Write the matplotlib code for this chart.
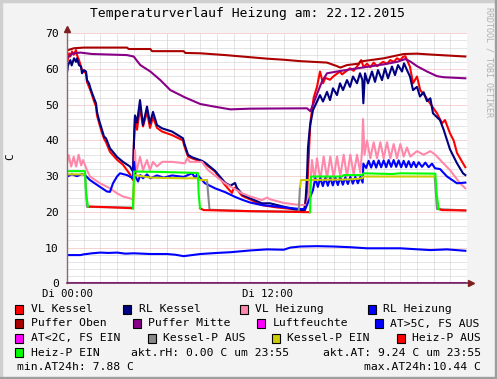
import numpy as np
import matplotlib
matplotlib.use("Agg")
import matplotlib.pyplot as plt
from matplotlib.patches import Rectangle

W, H, DPI = 497, 379, 100
FONT = "DejaVu Sans Mono"

title = "Temperaturverlauf Heizung am: 22.12.2015"
y_label = "C"
x_tick_hours = [0, 12]
x_tick_labels = ["Di 00:00", "Di 12:00"]
y_ticks = [0, 10, 20, 30, 40, 50, 60, 70]

# ---- series (hour of day, value) ----
vl_kessel = [(0, 61.5), (0.06, 63), (0.12, 64.4), (0.2, 63.5), (0.3, 64.9), (0.4, 64), (0.54, 65.3), (0.6, 63.9),
             (0.72, 62.5), (0.84, 60.7), (0.9, 59.7), (1.02, 59.3), (1.14, 58.8), (1.2, 56.4), (1.32, 55), (1.44, 53.6),
             (1.62, 51), (1.74, 49.5), (1.8, 47), (1.92, 45), (2.04, 43), (2.22, 40.5), (2.34, 39.5), (2.58, 36.8),
             (3.0, 34.6), (3.36, 33.2), (3.78, 30.5), (3.96, 28.9), (4.02, 40), (4.08, 46.7), (4.2, 43), (4.38, 49),
             (4.56, 43.9), (4.8, 48), (4.98, 43.5), (5.16, 46.5), (5.4, 43.5), (5.7, 42.5), (6.3, 41.5), (6.96, 40),
             (7.02, 38.7), (7.26, 35.5), (7.5, 35), (8.1, 34), (8.28, 33.5), (8.88, 31.3), (9.48, 27.5), (9.9, 25.3),
             (10.0, 26.6), (10.1, 26.8), (10.5, 24.5), (10.98, 23.5), (11.7, 21.9), (12.5, 21.3), (13.5, 20.8),
             (14.2, 20.3), (14.4, 25), (14.6, 45), (14.8, 52), (15.0, 55), (15.18, 59.3), (15.36, 56), (15.5, 57.5),
             (15.78, 57), (16.0, 58), (16.38, 59.3), (16.5, 58.5), (16.98, 60.2), (17.2, 59.5), (17.5, 61.3),
             (17.65, 62.5), (17.8, 60.5), (18.0, 61.5), (18.2, 60.5), (18.4, 61.8), (18.6, 60.8), (18.96, 62),
             (19.2, 61.5), (19.4, 62.5), (19.6, 62), (19.8, 63), (20.0, 62.5), (20.16, 63.4), (20.3, 63.6),
             (20.58, 60.6), (20.76, 56), (21.0, 57.9), (21.2, 54), (21.4, 53), (21.78, 50.4), (22.2, 47.6),
             (22.5, 44.8), (22.68, 45.7), (22.98, 42), (23.2, 40), (23.4, 36.5), (23.76, 33.6), (23.9, 32.5)]

rl_kessel = [(0, 58.9), (0.06, 61), (0.2, 62.5), (0.28, 61), (0.42, 63), (0.54, 62), (0.6, 63), (0.72, 61.1),
             (0.84, 60.7), (0.9, 58.8), (1.02, 59.7), (1.14, 59.3), (1.2, 56.9), (1.32, 56), (1.44, 54.1),
             (1.62, 51.8), (1.74, 50.4), (1.8, 48), (1.92, 45.7), (2.04, 43.9), (2.22, 41.1), (2.34, 40.6),
             (2.58, 37.8), (3.0, 35.4), (3.36, 34), (3.78, 32.7), (3.96, 31.3), (4.02, 40), (4.08, 47), (4.2, 45),
             (4.38, 51.3), (4.56, 44.3), (4.8, 49.5), (4.98, 44.8), (5.16, 48), (5.4, 44.3), (5.7, 43.4),
             (6.3, 42.5), (6.96, 40.6), (7.05, 39), (7.26, 36), (7.5, 35.3), (8.1, 34.3), (8.28, 33.8),
             (8.88, 31.5), (9.48, 28.2), (9.8, 27.3), (10.08, 28.1), (10.2, 26.7), (10.56, 24.7), (10.98, 23.8),
             (11.7, 22.4), (12.18, 22.4), (12.96, 21.5), (13.98, 20.3), (14.28, 20.5), (14.4, 30), (14.46, 38),
             (14.58, 44), (14.76, 48.5), (15.0, 50.9), (15.18, 52.7), (15.36, 50.9), (15.6, 53.6), (15.78, 51.3),
             (15.96, 54.6), (16.2, 52.7), (16.38, 56), (16.56, 54.1), (16.8, 56.9), (16.98, 55), (17.16, 57.9),
             (17.4, 56), (17.58, 58.8), (17.72, 57), (17.78, 50.4), (17.88, 58.8), (18.06, 56), (18.3, 59.3),
             (18.48, 56.4), (18.66, 59.7), (18.9, 56.9), (19.08, 60.2), (19.26, 57.4), (19.5, 60.7),
             (19.68, 58.3), (19.86, 61.1), (20.1, 59.3), (20.22, 61.6), (20.4, 59.7), (20.58, 57.9),
             (20.76, 54.1), (21.0, 55), (21.18, 52.3), (21.4, 53.5), (21.6, 51), (21.8, 51.8), (21.96, 47.6),
             (22.2, 46.5), (22.38, 45.7), (22.6, 43), (22.98, 37.5), (23.4, 33.6), (23.76, 30.8), (23.9, 30.3)]

vl_heizung = [(0, 33.6), (0.1, 35.9), (0.25, 32.7), (0.4, 35.4), (0.55, 32.7), (0.7, 36), (0.85, 33), (0.96, 34.5),
              (1.2, 31.7), (1.38, 29.9), (1.98, 28), (2.58, 26.6), (3.0, 25.2), (3.36, 24.3), (3.78, 23.8),
              (3.96, 23.5), (4.04, 30), (4.08, 37.3), (4.14, 30.8), (4.38, 35.4), (4.56, 31.7), (4.8, 34.5),
              (4.98, 31.7), (5.16, 34), (5.4, 32.7), (5.7, 34), (6.3, 34), (7.08, 33.6), (7.2, 35), (7.38, 34),
              (8.1, 34), (8.46, 31.7), (9.48, 28), (10.5, 25.2), (11.0, 24.3), (11.7, 23.3), (12.0, 24.0),
              (12.2, 23.5), (13.0, 22.5), (14.0, 21.9), (14.4, 22), (14.6, 28), (14.7, 34.5), (14.85, 29),
              (15.0, 35), (15.2, 29), (15.4, 35.5), (15.6, 29.5), (15.8, 35.5), (16.0, 29.5), (16.2, 35.5),
              (16.4, 30), (16.6, 36), (16.8, 30), (17.0, 36), (17.2, 30.5), (17.4, 36), (17.6, 31), (17.7, 37),
              (17.76, 46), (17.85, 36), (18.0, 40), (18.2, 35), (18.4, 39.5), (18.6, 35), (18.8, 39.5), (19.0, 35),
              (19.2, 39.5), (19.4, 35), (19.6, 39), (19.8, 35), (20.0, 39), (20.2, 35.5), (20.4, 38), (20.6, 35.5),
              (21.0, 37), (21.4, 36), (21.8, 37), (22.1, 36), (22.5, 34), (22.98, 31.7), (23.58, 28), (23.9, 26.6)]

rl_heizung = [(0, 29.9), (0.3, 30.5), (0.6, 30.0), (0.9, 30.6), (1.08, 30.3), (1.38, 28.9), (1.98, 27), (2.4, 25.7),
              (2.58, 25.6), (2.76, 28), (3.0, 29.9), (3.18, 30.8), (3.6, 30.3), (3.96, 29.4), (4.02, 34), (4.1, 30),
              (4.26, 28.5), (4.4, 30.3), (4.56, 29.4), (4.8, 30.5), (5.0, 29.4), (5.4, 30.2), (5.8, 29.6),
              (6.3, 30.2), (7.0, 29.8), (7.5, 30.8), (7.7, 29.5), (7.8, 30.5), (8.28, 28), (8.88, 26.6),
              (9.5, 25.5), (10.08, 24.2), (10.56, 23.3), (11.0, 22.6), (11.7, 21.9), (13.0, 21.3), (13.98, 20.8),
              (14.3, 20.8), (14.58, 24), (14.76, 26.1), (14.9, 29.5), (15.05, 27), (15.2, 29.5), (15.35, 27.2),
              (15.5, 29.5), (15.65, 27.3), (15.8, 29.6), (15.95, 27.4), (16.1, 29.6), (16.25, 27.5), (16.4, 29.7),
              (16.55, 27.6), (16.7, 29.7), (16.85, 27.8), (17.0, 29.8), (17.15, 27.9), (17.3, 29.8), (17.45, 28),
              (17.6, 29.8), (17.74, 28.2), (17.78, 33.5), (17.95, 32.3), (18.1, 34.3), (18.25, 32.4), (18.4, 34.3),
              (18.55, 32.4), (18.7, 34.4), (18.85, 32.5), (19.0, 34.4), (19.15, 32.5), (19.3, 34.5), (19.45, 32.6),
              (19.6, 34.5), (19.75, 32.6), (19.9, 34.4), (20.05, 32.5), (20.2, 34.3), (20.35, 32.5), (20.5, 34.2),
              (20.65, 32.5), (20.8, 34), (20.95, 32.5), (21.1, 33.9), (21.3, 32.6), (21.5, 33.8), (21.7, 32.5),
              (21.9, 33.5), (22.08, 32.2), (22.38, 32), (22.8, 29.9), (23.4, 28), (23.9, 28.2)]

puffer_oben = [(0, 65.2), (0.4, 65.8), (1.0, 66.0), (3.6, 66.0), (3.7, 65.6), (5.0, 65.6), (5.1, 65.0), (7.0, 65.0),
               (7.1, 64.5), (8.0, 64.4), (9.5, 63.9), (11.0, 63.3), (12.0, 62.9), (13.0, 62.6), (14.0, 62.2),
               (15.6, 61.8), (16.2, 60.8), (16.4, 60.4), (16.8, 61.1), (17.5, 61.5), (17.6, 62.1), (19.0, 63.0),
               (20.2, 64.2), (21.0, 64.3), (22.0, 64.0), (23.9, 63.5)]

puffer_mitte = [(0, 63), (0.3, 64.3), (0.8, 64.6), (1.5, 64.2), (3.6, 63.9), (4.0, 63.5), (4.4, 61.1), (5.0, 59.3),
                (5.6, 56.9), (6.2, 54.1), (7.1, 52.0), (8.0, 50.2), (8.8, 49.5), (9.8, 48.7), (11.0, 48.9),
                (14.4, 49.0), (14.6, 48.2), (14.8, 50.5), (15.0, 53), (15.3, 56.5), (15.6, 58.8), (16.2, 59.3),
                (17.0, 59.9), (18.0, 60.6), (19.0, 61.3), (19.8, 62.0), (20.3, 62.8), (20.6, 62.1), (21.0, 60.8),
                (21.6, 59.3), (22.2, 58.0), (22.6, 57.7), (23.9, 57.4)]

luftfeuchte = [(0, 0.0), (23.9, 0.0)]

aussen_temp = [(0, 7.9), (0.8, 7.9), (1.0, 8.1), (1.5, 8.4), (2.0, 8.6), (2.5, 8.5), (3.0, 8.6), (3.5, 8.3),
               (4.0, 8.4), (5.0, 8.2), (6.0, 8.2), (6.5, 8.0), (7.0, 7.6), (7.5, 7.9), (8.0, 8.2), (9.0, 8.5),
               (9.8, 8.7), (11.0, 9.2), (12.0, 9.5), (13.0, 9.4), (13.4, 10.0), (14.0, 10.3), (15.0, 10.4),
               (16.0, 10.3), (17.0, 10.1), (18.0, 9.8), (20.0, 9.8), (21.8, 9.3), (22.8, 9.5), (23.9, 9.1)]

NA = float("nan")
kessel_p_aus = [(1.08, 30.5), (1.2, 21.4), (2.5, 21.3), (3.96, 21.2), (NA, NA), (8.4, 28.9), (8.55, 20.6),
                (11.0, 20.2), (13.9, 20.1), (13.98, 27.0), (NA, NA), (22.06, 29.9), (22.2, 20.8), (23.9, 20.4)]
kessel_p_ein = [(0, 30.5), (1.08, 30.5), (NA, NA), (3.96, 21.2), (4.05, 30.3), (5.0, 29.6), (7.0, 29.4),
                (7.9, 29.4), (7.95, 28.9), (8.4, 28.9), (NA, NA), (13.98, 27.0), (14.04, 28.9), (17.0, 29.1),
                (17.7, 29.4), (17.8, 29.9), (22.06, 29.9)]
heiz_p_aus = [(1.26, 21.5), (2.5, 21.3), (3.96, 21.0), (NA, NA), (7.98, 21.0), (8.2, 20.5), (11.0, 20.2),
              (13.5, 20.0), (14.58, 19.9), (NA, NA), (22.3, 20.8), (22.5, 20.5), (23.9, 20.4)]
heiz_p_ein = [(0, 31.4), (1.08, 31.4), (1.14, 25), (1.26, 21.5), (NA, NA), (3.96, 21.0), (4.02, 31.3),
              (5.5, 31.2), (7.0, 31.0), (7.85, 30.9), (7.9, 25), (7.98, 21.0), (NA, NA), (14.58, 19.9),
              (14.64, 29.9), (16.5, 29.9), (16.6, 30.3), (17.7, 30.3), (17.8, 30.8), (19.5, 30.6), (20.0, 30.8),
              (22.1, 30.7), (22.18, 25), (22.3, 20.8)]

series = [
    (vl_kessel, "#ff0000"), (rl_kessel, "#000080"), (vl_heizung, "#ff88aa"), (rl_heizung, "#0000ff"),
    (puffer_oben, "#aa0000"), (puffer_mitte, "#880088"), (luftfeuchte, "#ff00ff"), (aussen_temp, "#0000ff"),
    (kessel_p_aus, "#888888"), (kessel_p_ein, "#cccc00"), (heiz_p_aus, "#ff0000"), (heiz_p_ein, "#00ff00"),
]

legend_items = [
    ("VL Kessel", "#ff0000", 15, 31, 309), ("RL Kessel", "#000080", 123, 139, 309),
    ("VL Heizung", "#ff88aa", 240, 255, 309), ("RL Heizung", "#0000ff", 368, 383, 309),
    ("Puffer Oben", "#aa0000", 15, 31, 323.5), ("Puffer Mitte", "#880088", 133, 148, 323.5),
    ("Luftfeuchte", "#ff00ff", 257, 273, 323.5), ("AT>5C, FS AUS", "#0000ff", 375, 390, 323.5),
    ("AT<2C, FS EIN", "#ff00ff", 15, 31, 338), ("Kessel-P AUS", "#888888", 148, 163, 338),
    ("Kessel-P EIN", "#cccc00", 272, 287, 338), ("Heiz-P AUS", "#ff0000", 397, 412, 338),
    ("Heiz-P EIN", "#00ff00", 15, 31, 352.5),
]
info_left = [("akt.rH: 0.00 C um 23:55", 131, 352.5), ("min.AT24h: 7.88 C", 17, 366.5)]
info_right = [("akt.AT: 9.24 C um 23:55", 481, 352.5), ("max.AT24h:10.44 C", 481, 366.5)]

# ---- figure ----
fig = plt.figure(figsize=(W / DPI, H / DPI), dpi=DPI, facecolor="#f3f3f3")
L, T, R, B = 67, 33.3, 467, 283.3
ax = fig.add_axes([L / W, 1 - B / H, (R - L) / W, (B - T) / H])
ax.set_facecolor("white")
ax.set_xlim(0, 24)
ax.set_ylim(0, 70)
for s in ax.spines.values():
    s.set_visible(False)
ax.tick_params(length=0)

# grid
MINOR_C, MAJOR_C = "#cdcdcd", "#e8acac"
for h in range(1, 25):
    major = h % 6 == 0 and h < 24
    ax.axvline(h, color=MAJOR_C if major else MINOR_C, lw=0.72, ls=(0, (1, 1)), zorder=0)
for v in range(2, 71, 2):
    major = v % 10 == 0
    ax.axhline(v, color=MAJOR_C if major else MINOR_C, lw=0.72, ls=(0, (1, 1)), zorder=0)

for i, (data, col) in enumerate(series):
    t = [p[0] for p in data]
    v = [p[1] for p in data]
    ax.plot(t, v, color=col, lw=1.5, zorder=2 + i * 0.1, solid_joinstyle="round")

# axes with arrows
ax.plot([0, 0], [0, 71.0], color="#8a6a6a", lw=1.0, clip_on=False, zorder=5)
ax.plot([0, 24.2], [0, 0], color="#6a2a5a", lw=1.2, clip_on=False, zorder=5)
ax.plot([0], [71.3], marker="^", color="#7f1f1f", ms=4.5, clip_on=False, zorder=6)
ax.plot([24.25], [0], marker=">", color="#7f1f1f", ms=4.5, clip_on=False, zorder=6)

ax.set_xticks(x_tick_hours)
ax.set_xticklabels(x_tick_labels, family=FONT, fontsize=7.6)
ax.set_yticks(y_ticks)
ax.set_yticklabels([str(v) for v in y_ticks], family=FONT, fontsize=8.2)
ax.tick_params(axis="y", pad=6)
ax.tick_params(axis="x", pad=4)

def fx(x):
    return x / W

def fy(y):
    return 1 - y / H

fig.text(fx(248), fy(14), title, family=FONT, fontsize=9.4, ha="center", va="center")
fig.text(fx(10), fy(157), y_label, family=FONT, fontsize=8, rotation=90, ha="center", va="center")
fig.text(fx(489), fy(62), "RRDTOOL / TOBI OETIKER", family=FONT, fontsize=6, rotation=270,
         color="#b0b0b0", ha="center", va="center")

for label, col, bx, tx, ry in legend_items:
    fig.patches.append(Rectangle((fx(bx), fy(ry + 4.5)), 8 / W, 9 / H, transform=fig.transFigure,
                                 facecolor=col, edgecolor="black", lw=0.8))
    fig.text(fx(tx), fy(ry), label, family=FONT, fontsize=8.2, ha="left", va="center")
for txt, x, y in info_left:
    fig.text(fx(x), fy(y), txt, family=FONT, fontsize=8.2, ha="left", va="center")
for txt, x, y in info_right:
    fig.text(fx(x), fy(y), txt, family=FONT, fontsize=8.2, ha="right", va="center")

# 3D frame
fig.patches.append(Rectangle((0, 1 - 2 / H), 1, 2 / H, transform=fig.transFigure, color="#cfcfcf"))
fig.patches.append(Rectangle((0, 0), 2 / W, 1, transform=fig.transFigure, color="#cfcfcf"))
fig.patches.append(Rectangle((1 - 2 / W, 0), 2 / W, 1, transform=fig.transFigure, color="#9e9e9e"))
fig.patches.append(Rectangle((0, 0), 1, 2 / H, transform=fig.transFigure, color="#9e9e9e"))

fig.savefig("out.png", dpi=DPI, facecolor=fig.get_facecolor())
